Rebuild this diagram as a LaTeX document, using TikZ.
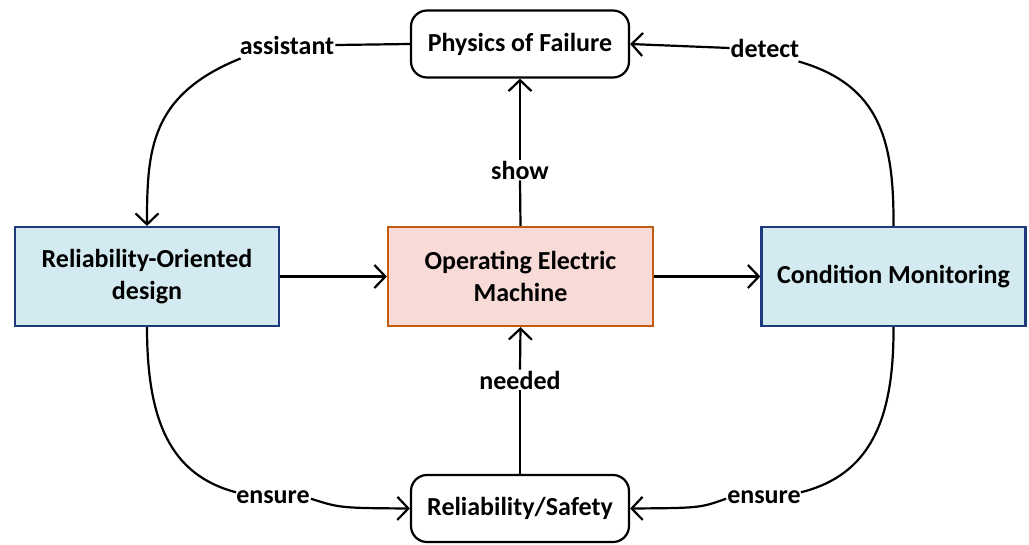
\documentclass[tikz,border=0pt]{standalone}
\usepackage{fontspec}
\setmainfont{Carlito}
\usetikzlibrary{arrows.meta}
\definecolor{bluefill}{HTML}{D3EBF0}
\definecolor{blueline}{HTML}{1F3A7A}
\definecolor{pinkfill}{HTML}{F8DAD7}
\definecolor{orangeline}{HTML}{C55A11}
\tikzset{
  every node/.style={font=\fontsize{26}{32}\selectfont\bfseries},
  roundbox/.style={draw=black, line width=2.2pt, rounded corners=16pt, minimum width=218pt, minimum height=67pt, align=center},
  bluebox/.style={draw=blueline, fill=bluefill, line width=2.2pt, minimum width=264pt, minimum height=99pt, align=center},
  pinkbox/.style={draw=orangeline, fill=pinkfill, line width=2.2pt, minimum width=265pt, minimum height=99pt, align=center},
  lab/.style={inner sep=1pt},
  plain/.style={line width=2.2pt},
  conn/.style={line width=2.2pt, -{Straight Barb[length=11pt,width=23pt,line width=2.2pt]}},
}
\begin{document}
\begin{tikzpicture}[x=1pt,y=-1pt]
\useasboundingbox (0,0) rectangle (1029,544);
\node[roundbox] (pof) at (520,44) {Physics of Failure};
\node[roundbox] (rs) at (520,508.5) {Reliability/Safety};
\node[bluebox] (rod) at (147,276.5) {Reliability-Oriented\\design};
\node[pinkbox] (oem) at (520.5,276.5) {Operating Electric\\Machine};
\node[bluebox] (cm) at (893.5,276.5) {Condition Monitoring};
% labels
\node[lab] (assist) at (287,45) {assistant};
\node[lab] (detect) at (765,48) {detect};
\node[lab] (show) at (520,170) {show};
\node[lab] (needed) at (520,380) {needed};
\node[lab] (ens1) at (273,497) {ensure};
\node[lab] (ens2) at (764,497) {ensure};
% straight connectors
\draw[conn] (rod.east) -- (oem.west);
\draw[conn] (oem.east) -- (cm.west);
\draw[plain] (oem.north) -- (show.south);
\draw[conn] (show.north) -- (pof.south);
\draw[plain] (rs.north) -- (needed.south);
\draw[conn] (needed.north) -- (oem.south);
% curved connectors
\draw[plain] (pof.west) -- (assist.east);
\draw[conn] ([xshift=2pt,yshift=-3pt]assist.south west) .. controls (150,95) and (147,150) .. (rod.north);
\draw[plain] (cm.north) .. controls (894,140) and (880,85) .. ([xshift=-2pt,yshift=-3pt]detect.south east);
\draw[conn] (detect.west) -- (pof.east);
\draw[plain] (rod.south) .. controls (147,420) and (170,475) .. ([xshift=1pt,yshift=-3pt]ens1.north west);
\draw[conn] ([yshift=6pt]ens1.south east) .. controls (340,508) .. (rs.west);
\draw[plain] (cm.south) .. controls (894,420) and (870,475) .. ([xshift=-1pt,yshift=-3pt]ens2.north east);
\draw[conn] ([yshift=6pt]ens2.south west) .. controls (700,508) .. (rs.east);
\end{tikzpicture}
\end{document}
